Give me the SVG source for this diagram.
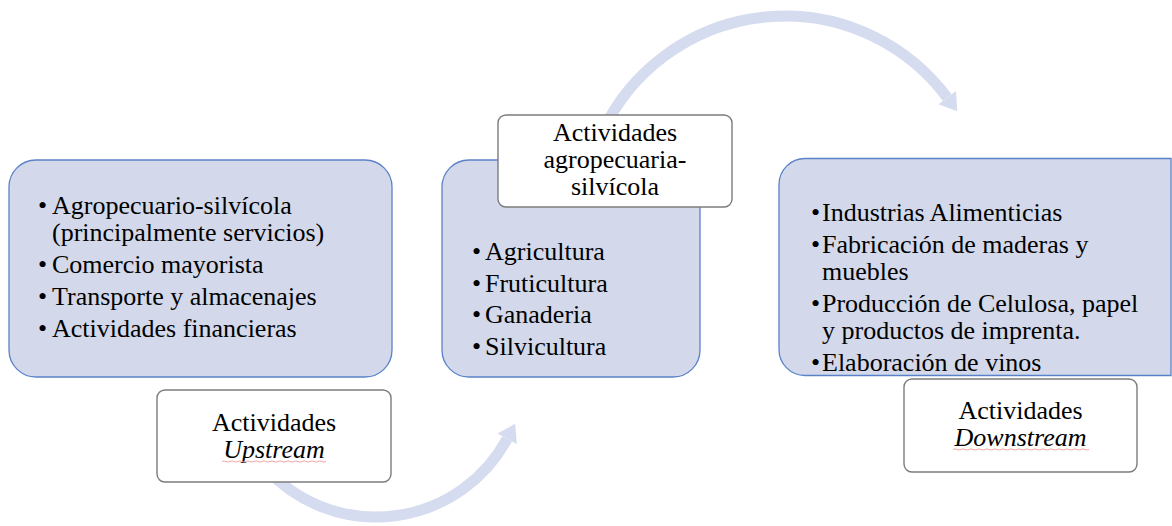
<svg xmlns="http://www.w3.org/2000/svg" width="1172" height="526" viewBox="0 0 1172 526">
<style>
.main{fill:#d3d9eb;stroke:#5a82c8;stroke-width:1.3}
.lbl{fill:#ffffff;stroke:#7c7c7c;stroke-width:1.4}
text{font-family:"Liberation Serif","Times New Roman",Times,Tinos,"Noto Serif","DejaVu Serif",FreeSerif,Georgia,serif;font-size:26px;fill:#000}
.c{text-anchor:middle}
.i{font-style:italic}
.arc{fill:none;stroke:#d6dcef;stroke-width:11}
.head{fill:#d6dcef}
.sq{fill:none;stroke:#f2a6a6;stroke-width:1}
</style>
<rect width="1172" height="526" fill="#ffffff"/>
<g id="connectors">
  <path class="arc" d="M 603.2 130 A 202 202 0 0 1 947.2 97.6"/>
  <polygon class="head" points="957.3,111.3 956.0,91.0 938.4,104.2"/>
  <path class="arc" d="M 267.4 470 A 149 149 0 0 0 507.1 438.8"/>
  <polygon class="head" points="515.2,423.8 516.8,444.0 497.4,433.6"/>
</g>
<g id="node-upstream-activities">
  <rect class="main" x="9" y="160" width="383" height="217" rx="27"/>
  <text x="38" y="214">•</text><text x="52" y="214">Agropecuario-silvícola</text>
  <text x="52" y="241">(principalmente servicios)</text>
  <text x="38" y="273">•</text><text x="52" y="273">Comercio mayorista</text>
  <text x="38" y="305">•</text><text x="52" y="305">Transporte y almacenajes</text>
  <text x="38" y="337">•</text><text x="52" y="337">Actividades financieras</text>
</g>
<g id="node-upstream-label">
  <rect class="lbl" x="157" y="390" width="234" height="92" rx="8"/>
  <text class="c" x="274" y="431">Actividades</text>
  <text class="c i" x="274" y="458">Upstream</text>
  <path class="sq" d="M 222 461.5 q 2 -1.2 4 0 t 4 0 t 4 0 t 4 0 t 4 0 t 4 0 t 4 0 t 4 0 t 4 0 t 4 0 t 4 0 t 4 0 t 4 0 t 4 0 t 4 0 t 4 0 t 4 0 t 4 0 t 4 0 t 4 0 t 4 0 t 4 0 t 4 0 t 4 0 t 4 0 t 4 0"/>
</g>
<g id="node-agro-activities">
  <rect class="main" x="442" y="160" width="258" height="217" rx="27"/>
  <text x="472" y="260">•</text><text x="485" y="260">Agricultura</text>
  <text x="472" y="292">•</text><text x="485" y="292">Fruticultura</text>
  <text x="472" y="323">•</text><text x="485" y="323">Ganaderia</text>
  <text x="472" y="355">•</text><text x="485" y="355">Silvicultura</text>
</g>
<g id="node-agro-label">
  <rect class="lbl" x="498" y="115" width="234" height="92" rx="8"/>
  <text class="c" x="615" y="141">Actividades</text>
  <text class="c" x="615" y="168">agropecuaria-</text>
  <text class="c" x="615" y="195">silvícola</text>
</g>
<g id="node-downstream-activities">
  <path class="main" d="M 1171 158.5 L 805 158.5 A 26 26 0 0 0 779 184.5 L 779 349.5 A 26 26 0 0 0 805 375.5 L 1171 375.5 Z"/>
  <text x="811" y="221">•</text><text x="822" y="221">Industrias Alimenticias</text>
  <text x="811" y="253">•</text><text x="822" y="253">Fabricación de maderas y</text>
  <text x="822" y="280">muebles</text>
  <text x="811" y="312">•</text><text x="822" y="312">Producción de Celulosa, papel</text>
  <text x="822" y="339">y productos de imprenta.</text>
  <text x="811" y="371">•</text><text x="822" y="371">Elaboración de vinos</text>
</g>
<g id="node-downstream-label">
  <rect class="lbl" x="904" y="379" width="233" height="93" rx="8"/>
  <text class="c" x="1020.5" y="419">Actividades</text>
  <text class="c i" x="1020.5" y="446">Downstream</text>
  <path class="sq" d="M 953 449.5 q 2 -1.2 4 0 t 4 0 t 4 0 t 4 0 t 4 0 t 4 0 t 4 0 t 4 0 t 4 0 t 4 0 t 4 0 t 4 0 t 4 0 t 4 0 t 4 0 t 4 0 t 4 0 t 4 0 t 4 0 t 4 0 t 4 0 t 4 0 t 4 0 t 4 0 t 4 0 t 4 0 t 4 0 t 4 0 t 4 0 t 4 0 t 4 0 t 4 0 t 4 0 t 4 0"/>
</g>
</svg>
